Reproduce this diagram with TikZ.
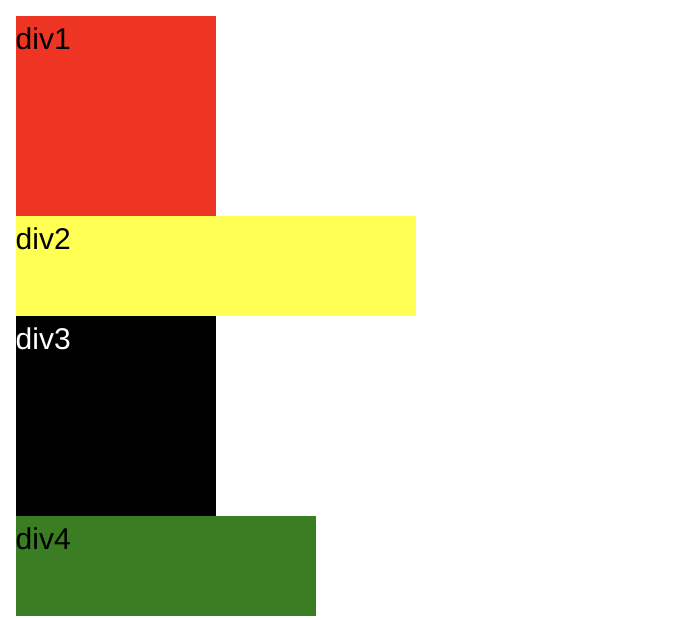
\documentclass[tikz,border=0pt]{standalone}
\usepackage{fontspec}
\setmainfont{Liberation Sans}
\definecolor{divred}{RGB}{238,53,36}
\definecolor{divyellow}{RGB}{255,255,84}
\definecolor{divgreen}{RGB}{58,125,34}
\begin{document}
\begin{tikzpicture}[x=1pt,y=-1pt,
  box/.style={inner sep=0pt,outer sep=0pt,anchor=north west},
  lbl/.style={inner sep=0pt,anchor=base west,font=\fontsize{30}{36}\selectfont}]
\useasboundingbox (0,0) rectangle (688,620);
\node[box,fill=divred,minimum width=200pt,minimum height=200pt] (d1) at (16,16) {};
\node[box,fill=divyellow,minimum width=400pt,minimum height=100pt] (d2) at (16,216) {};
\node[box,fill=black,minimum width=200pt,minimum height=200pt] (d3) at (16,316) {};
\node[box,fill=divgreen,minimum width=300pt,minimum height=100pt] (d4) at (16,516) {};
\node[lbl] (t1) at (15.5,49.5) {div1};
\node[lbl] (t2) at (15.5,249.5) {div2};
\node[lbl,text=white] (t3) at (15.5,349.5) {div3};
\node[lbl] (t4) at (15.5,549.5) {div4};
\end{tikzpicture}
\end{document}
